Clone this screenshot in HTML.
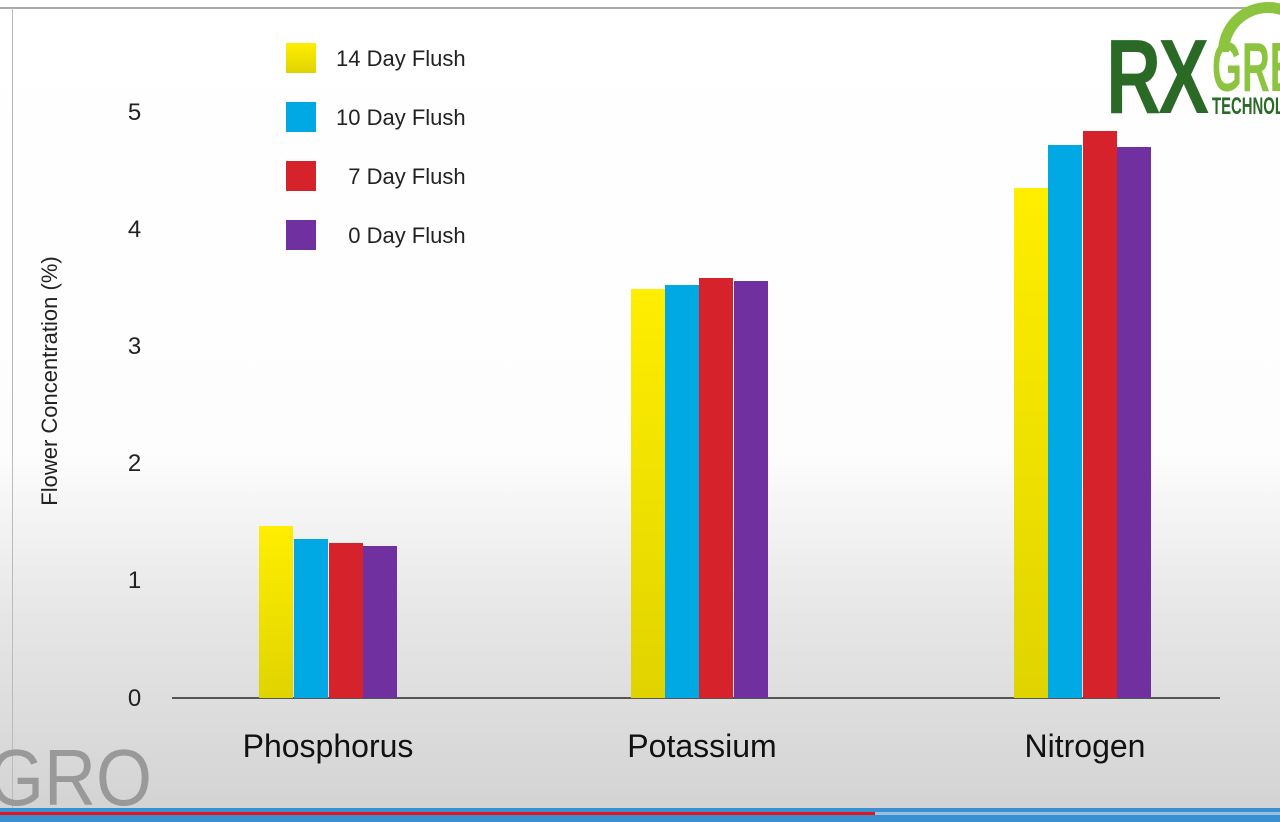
<!DOCTYPE html>
<html><head><meta charset="utf-8"><style>
html,body{margin:0;padding:0;}
body{width:1280px;height:822px;position:relative;overflow:hidden;font-family:"Liberation Sans","DejaVu Sans",sans-serif;
background:linear-gradient(to bottom,#ffffff 0%,#fdfdfd 55%,#e6e6e6 75%,#d2d2d2 100%);}
.a{position:absolute;}
.bar{position:absolute;bottom:124px;width:34px;}
.y{background:linear-gradient(#ffee00,#e0d400);}
.b{background:#00a8e4;}
.r{background:#d6222b;}
.p{background:#7030a0;}
.tick{position:absolute;left:112px;width:45px;text-align:center;font-size:24px;color:#222;}
.leg{position:absolute;left:286px;width:30px;height:30px;}
.lt{position:absolute;left:336px;font-size:22px;color:#222;}
.cat{position:absolute;top:728px;font-size:32px;color:#111;width:300px;text-align:center;}
</style></head><body>
<div class="a" style="left:0;top:7px;width:1280px;height:2px;background:#aaa"></div>
<div class="a" style="left:12px;top:8px;width:1px;height:800px;background:#bbb"></div>
<div class="tick" style="top:99px">5</div>
<div class="tick" style="top:216px">4</div>
<div class="tick" style="top:333px">3</div>
<div class="tick" style="top:450px">2</div>
<div class="tick" style="top:567px">1</div>
<div class="tick" style="top:685px">0</div>
<div class="a" style="left:-110px;top:368px;width:320px;text-align:center;transform:rotate(-90deg);font-size:22px;color:#222;white-space:nowrap">Flower Concentration (%)</div>
<div class="a" style="left:172px;top:697px;width:1048px;height:2px;background:#555"></div>
<div class="leg y" style="top:43px"></div><div class="lt" style="top:46px">14 Day Flush</div>
<div class="leg b" style="top:102px"></div><div class="lt" style="top:105px">10 Day Flush</div>
<div class="leg r" style="top:161px"></div><div class="lt" style="top:164px">&nbsp;&nbsp;7 Day Flush</div>
<div class="leg p" style="top:220px"></div><div class="lt" style="top:223px">&nbsp;&nbsp;0 Day Flush</div>
<div class="bar y" style="left:259px;height:172px"></div>
<div class="bar b" style="left:294px;height:159px"></div>
<div class="bar r" style="left:329px;height:155px"></div>
<div class="bar p" style="left:363px;height:152px"></div>
<div class="bar y" style="left:631px;height:409px"></div>
<div class="bar b" style="left:665px;height:413px"></div>
<div class="bar r" style="left:699px;height:420px"></div>
<div class="bar p" style="left:734px;height:417px"></div>
<div class="bar y" style="left:1014px;height:510px"></div>
<div class="bar b" style="left:1048px;height:553px"></div>
<div class="bar r" style="left:1083px;height:567px"></div>
<div class="bar p" style="left:1117px;height:551px"></div>
<div class="cat" style="left:178px">Phosphorus</div>
<div class="cat" style="left:552px">Potassium</div>
<div class="cat" style="left:935px">Nitrogen</div>
<div class="a" style="left:0;top:733px;width:200px;height:80px;overflow:hidden">
<div class="a" style="left:-12px;top:0;font-size:80px;line-height:90px;color:#999;transform:scaleX(0.9);transform-origin:left">GRO</div>
</div>
<div class="a" style="left:1100px;top:0;width:180px;height:125px;overflow:hidden">
<div class="a" style="left:6px;top:24px;font-size:106px;line-height:106px;font-weight:bold;color:#2a6a26;transform:scaleX(0.72);transform-origin:left;letter-spacing:-4px">RX</div>
<div class="a" style="left:112px;top:32px;font-size:70px;line-height:70px;font-weight:bold;color:#8cc43f;transform:scaleX(0.55);transform-origin:left;white-space:nowrap">GREEN</div>
<div class="a" style="left:112px;top:95px;font-size:24px;line-height:24px;font-weight:bold;color:#2a6a26;transform:scaleX(0.62);transform-origin:left;white-space:nowrap">TECHNOLOGIES</div>
<div class="a" style="left:118px;top:2px;width:100px;height:50px;border:11px solid #8cc43f;border-radius:60px 60px 0 0;border-bottom:none;box-sizing:border-box"></div>
</div>
<div class="a" style="left:0;top:808px;width:1280px;height:14px;background:#3a8fd0"></div>
<div class="a" style="left:0;top:812px;width:875px;height:3px;background:#e0161e"></div>
<div class="a" style="left:875px;top:812px;width:405px;height:3px;background:#9ac0e0"></div>
</body></html>
